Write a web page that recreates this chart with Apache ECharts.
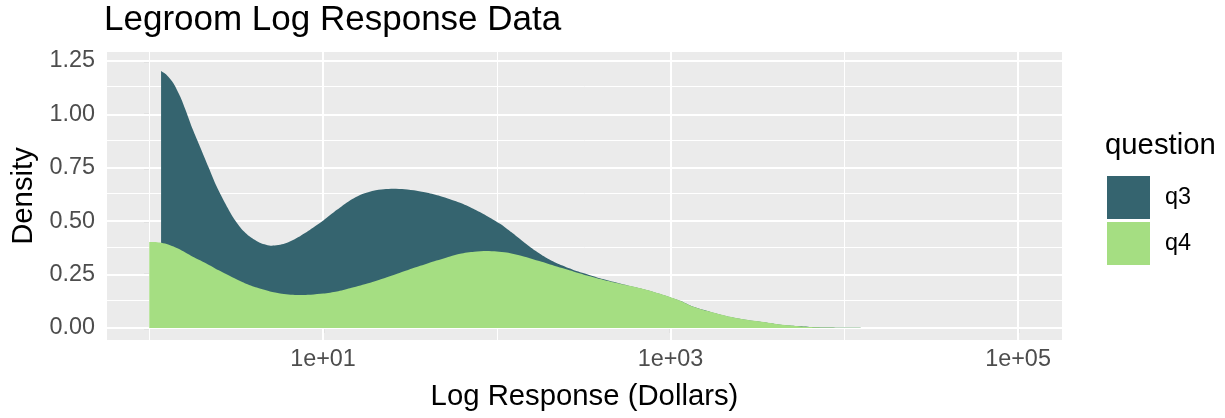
<!DOCTYPE html>
<html>
<head>
<meta charset="utf-8">
<script src="https://cdn.jsdelivr.net/npm/echarts@6/dist/echarts.min.js"></script>
<style>
	html, body { margin: 0; padding: 0; background: #fff; }
	#chart { width: 1225px; height: 418px; }
</style>
</head>
<body>
<div id="chart"></div>
<script>
// x is log10(response in dollars), y is density
const q3Log = [0.068, 0.10, 0.139, 0.18, 0.216, 0.25, 0.292, 0.34, 0.388, 0.436, 0.484, 0.53, 0.58, 0.64, 0.705, 0.78, 0.868, 0.94, 1.002, 1.08, 1.155, 1.22, 1.29, 1.35, 1.405, 1.47, 1.539, 1.6, 1.673, 1.731, 1.8, 1.865, 1.94, 2.019, 2.085, 2.153, 2.22, 2.287, 2.36, 2.441, 2.52, 2.594, 2.67, 2.748, 2.82, 2.901, 2.98, 3.055, 3.131, 3.23, 3.323, 3.42, 3.515, 3.61, 3.707, 3.8, 3.899, 4.0, 4.1, 4.3, 5.0]
const q3Density = [1.203, 1.185, 1.146, 1.08, 1.005, 0.93, 0.849, 0.755, 0.662, 0.585, 0.516, 0.465, 0.427, 0.398, 0.385, 0.395, 0.43, 0.468, 0.503, 0.553, 0.597, 0.625, 0.643, 0.65, 0.652, 0.65, 0.643, 0.633, 0.618, 0.603, 0.583, 0.558, 0.526, 0.488, 0.448, 0.404, 0.363, 0.328, 0.298, 0.272, 0.252, 0.233, 0.216, 0.2, 0.186, 0.169, 0.149, 0.127, 0.099, 0.075, 0.055, 0.04, 0.029, 0.018, 0.01, 0.005, 0.002, 0.001, 0.0004, 0.0001, 0]

const q4Log = [0.0, 0.03, 0.06, 0.1, 0.14, 0.177, 0.22, 0.26, 0.331, 0.4, 0.484, 0.55, 0.619, 0.695, 0.753, 0.849, 0.93, 1.002, 1.08, 1.155, 1.25, 1.347, 1.44, 1.539, 1.63, 1.731, 1.789, 1.87, 1.942, 2.0, 2.057, 2.15, 2.249, 2.34, 2.441, 2.52, 2.594, 2.67, 2.748, 2.82, 2.901, 2.98, 3.055, 3.131, 3.23, 3.323, 3.42, 3.515, 3.61, 3.707, 3.8, 3.899, 4.0, 4.1, 4.3, 5.0]
const q4Density = [0.403, 0.403, 0.4, 0.393, 0.381, 0.367, 0.348, 0.33, 0.301, 0.27, 0.235, 0.21, 0.189, 0.171, 0.162, 0.155, 0.156, 0.161, 0.171, 0.186, 0.207, 0.232, 0.258, 0.285, 0.31, 0.335, 0.348, 0.357, 0.36, 0.358, 0.353, 0.336, 0.312, 0.289, 0.265, 0.246, 0.229, 0.214, 0.2, 0.187, 0.17, 0.15, 0.128, 0.1, 0.076, 0.056, 0.041, 0.03, 0.019, 0.011, 0.005, 0.002, 0.001, 0.0004, 0.0001, 0]

const xMajor = [1, 3, 5]
const xMinor = [0, 2, 4]
const yMajor = [0, 0.25, 0.5, 0.75, 1, 1.25]
const yMinor = [0.125, 0.375, 0.625, 0.875, 1.125]

const FONT = 'Liberation Sans, Arial, sans-serif'
const COLORS = { q3: '#35646F', q4: '#A5DE82' }

const zip = (xs, ys) => xs.map((x, i) => [x, ys[i]])

// 网格线 (markLine 画, 放在面积图下面)
const gridLines = [
	...xMajor.map(v => ({ xAxis: v, lineStyle: { width: 2 } })),
	...xMinor.map(v => ({ xAxis: v, lineStyle: { width: 1 } })),
	...yMajor.map(v => ({ yAxis: v, lineStyle: { width: 2 } })),
	...yMinor.map(v => ({ yAxis: v, lineStyle: { width: 1 } })),
]

const areaSeries = (name, data) => ({
	name,
	type: 'line',
	data,
	z: 3,
	smooth: 0.25,
	symbol: 'none',
	color: COLORS[name],
	lineStyle: { width: 0 },
	areaStyle: { color: COLORS[name], opacity: 1 },
})

const chart = echarts.init(document.getElementById('chart'), null, { renderer: 'canvas' })
chart.setOption({
	animation: false,
	textStyle: { fontFamily: FONT },
	title: {
		text: 'Legroom Log Response Data',
		left: 104,
		top: 3,
		padding: 0,
		textStyle: { fontFamily: FONT, fontSize: 35, fontWeight: 'normal', color: '#000' },
	},
	grid: {
		left: 107,
		right: 163,
		top: 52,
		bottom: 78,
		show: true,
		backgroundColor: '#EBEBEB',
		borderWidth: 0,
	},
	legend: {
		data: ['q3', 'q4'],
		orient: 'vertical',
		left: 1107,
		top: 176,
		padding: 0,
		itemWidth: 43,
		itemHeight: 43,
		itemGap: 3,
		icon: 'rect',
		textStyle: { fontFamily: FONT, fontSize: 23.4, color: '#000', padding: [0, 0, 0, 10] },
	},
	graphic: [
		{
			type: 'text',
			left: 1105,
			top: 131,
			style: { text: 'question', font: `29.3px ${FONT}`, fill: '#000' },
		},
	],
	xAxis: {
		type: 'value',
		min: -0.2432,
		max: 5.253,
		name: 'Log Response (Dollars)',
		nameLocation: 'middle',
		nameGap: 42,
		nameTextStyle: { fontFamily: FONT, fontSize: 29.3, color: '#000' },
		axisLine: { show: false },
		axisTick: { show: true, customValues: xMajor, length: 5.5, lineStyle: { color: '#333', width: 1.1 } },
		axisLabel: {
			customValues: xMajor,
			margin: 8,
			fontFamily: FONT,
			fontSize: 23.4,
			color: '#4D4D4D',
			formatter: v => '1e+' + String(Math.round(v)).padStart(2, '0'),
		},
		splitLine: { show: false },
	},
	yAxis: {
		type: 'value',
		min: -0.0562,
		max: 1.2921,
		name: 'Density',
		nameLocation: 'middle',
		nameGap: 67,
		nameTextStyle: { fontFamily: FONT, fontSize: 29.3, color: '#000' },
		axisLine: { show: false },
		axisTick: { show: true, customValues: yMajor, length: 5.5, lineStyle: { color: '#333', width: 1.1 } },
		axisLabel: {
			customValues: yMajor,
			margin: 12,
			fontFamily: FONT,
			fontSize: 23.4,
			color: '#4D4D4D',
			formatter: v => v.toFixed(2),
		},
		splitLine: { show: false },
	},
	series: [
		{
			name: 'grid',
			type: 'line',
			data: [],
			z: 1,
			silent: true,
			markLine: {
				z: 1,
				silent: true,
				symbol: ['none', 'none'],
				label: { show: false },
				lineStyle: { color: '#FFFFFF', type: 'solid' },
				data: gridLines,
			},
		},
		areaSeries('q3', zip(q3Log, q3Density)),
		areaSeries('q4', zip(q4Log, q4Density)),
	],
})
</script>
</body>
</html>
